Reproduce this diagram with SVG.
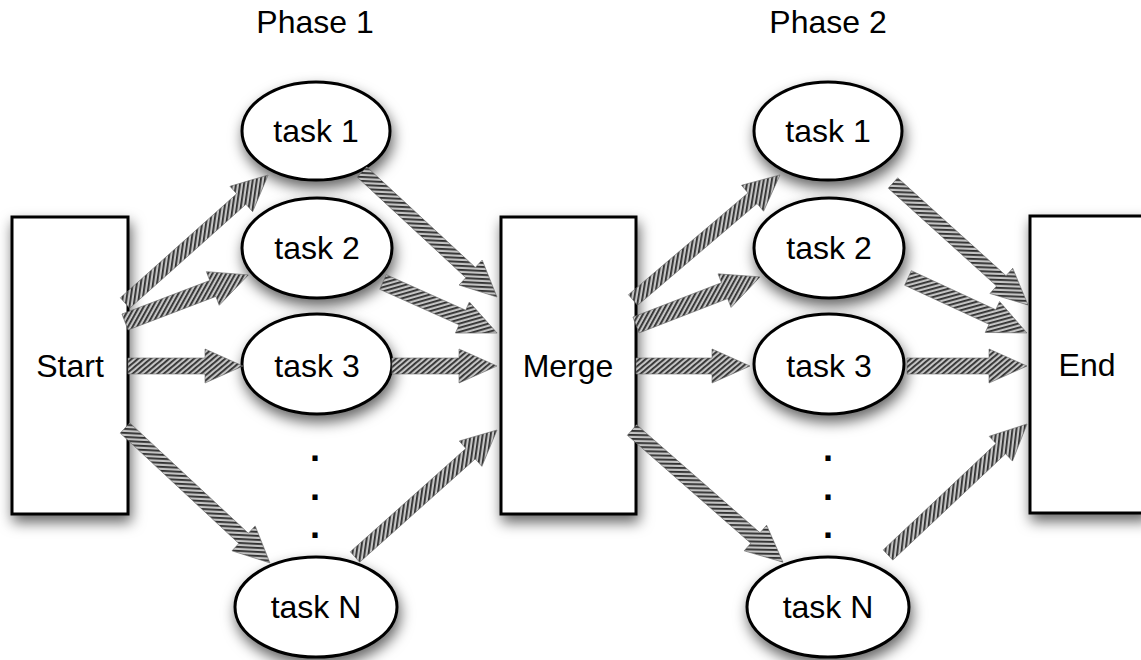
<svg xmlns="http://www.w3.org/2000/svg" width="1141" height="660" viewBox="0 0 1141 660">
<style>
.box{fill:#fff;stroke:#000;stroke-width:3}
.lbl{font-family:"Liberation Sans",Arial,sans-serif;font-size:32px;fill:#000;text-anchor:middle}
.dot{font-family:"Liberation Sans",Arial,sans-serif;font-size:36px;font-weight:bold;fill:#000;text-anchor:middle}
.arr{fill:url(#hatch);stroke:#666;stroke-width:0.6}
</style>
<defs>
<filter id="sh" x="-30%" y="-30%" width="160%" height="160%">
<feDropShadow dx="2" dy="7" stdDeviation="7" flood-color="#000" flood-opacity="0.6"/>
</filter>
<pattern id="hatch" patternUnits="userSpaceOnUse" width="4" height="4" patternTransform="rotate(50)">
<rect width="4" height="4" fill="#c4c4c4"/>
<rect width="1.8" height="4" fill="#2e2e2e"/>
</pattern>
</defs>
<text class="lbl" x="315" y="33">Phase 1</text>
<text class="lbl" x="828" y="33">Phase 2</text>

<g id="start"><rect class="box" filter="url(#sh)" x="12" y="217" width="116" height="297"/><text class="lbl" x="70" y="377">Start</text></g>
<g id="merge"><rect class="box" filter="url(#sh)" x="501" y="217" width="135" height="297"/><text class="lbl" x="568" y="377">Merge</text></g>
<g id="end"><rect class="box" filter="url(#sh)" x="1030" y="216" width="116" height="297"/><text class="lbl" x="1087" y="376">End</text></g>

<g id="p1task1"><ellipse class="box" filter="url(#sh)" cx="316" cy="131" rx="74" ry="49"/><text class="lbl" x="316" y="142">task 1</text></g>
<g id="p1task2"><ellipse class="box" filter="url(#sh)" cx="317" cy="248" rx="75" ry="50"/><text class="lbl" x="317" y="259">task 2</text></g>
<g id="p1task3"><ellipse class="box" filter="url(#sh)" cx="317" cy="364" rx="75" ry="50"/><text class="lbl" x="317" y="377">task 3</text></g>
<g id="p1dots"><text class="dot" x="315" y="461">.</text><text class="dot" x="315" y="500">.</text><text class="dot" x="315" y="538">.</text></g>
<g id="p1taskN"><ellipse class="box" filter="url(#sh)" cx="316" cy="607" rx="81" ry="50"/><text class="lbl" x="316" y="618">task N</text></g>

<g id="p2task1"><ellipse class="box" filter="url(#sh)" cx="828" cy="131" rx="74" ry="49"/><text class="lbl" x="828" y="142">task 1</text></g>
<g id="p2task2"><ellipse class="box" filter="url(#sh)" cx="829" cy="248" rx="75" ry="50"/><text class="lbl" x="829" y="259">task 2</text></g>
<g id="p2task3"><ellipse class="box" filter="url(#sh)" cx="829" cy="364" rx="75" ry="50"/><text class="lbl" x="829" y="377">task 3</text></g>
<g id="p2dots"><text class="dot" x="828" y="461">.</text><text class="dot" x="828" y="500">.</text><text class="dot" x="828" y="538">.</text></g>
<g id="p2taskN"><ellipse class="box" filter="url(#sh)" cx="828" cy="607" rx="81" ry="50"/><text class="lbl" x="828" y="618">task N</text></g>

<g id="connectors">
<path class="arr" transform="translate(125,303) rotate(-41.8)" d="M0,-7 H156 V-17 L192,0 L156,17 V7 H0 Z"/>
<path class="arr" transform="translate(125,322) rotate(-20.9)" d="M0,-8.5 H94 V-18 L132,0 L94,18 V8.5 H0 Z"/>
<path class="arr" transform="translate(128,366) rotate(0)" d="M0,-8 H77 V-17 L115,0 L77,17 V8 H0 Z"/>
<path class="arr" transform="translate(125,428) rotate(42.95)" d="M0,-7 H162 V-17 L198,0 L162,17 V7 H0 Z"/>
<path class="arr" transform="translate(362,172) rotate(42.8)" d="M0,-7 H148 V-17 L184,0 L148,17 V7 H0 Z"/>
<path class="arr" transform="translate(383,282) rotate(24.1)" d="M0,-8 H87 V-17 L125,0 L87,17 V8 H0 Z"/>
<path class="arr" transform="translate(392,366) rotate(0)" d="M0,-8 H67 V-17 L105,0 L67,17 V8 H0 Z"/>
<path class="arr" transform="translate(355,557) rotate(-41.8)" d="M0,-7 H155 V-17 L190.5,0 L155,17 V7 H0 Z"/>

<path class="arr" transform="translate(633,300) rotate(-40.4)" d="M0,-7 H157 V-17 L193,0 L157,17 V7 H0 Z"/>
<path class="arr" transform="translate(636,325) rotate(-21.2)" d="M0,-8.5 H95 V-18 L133,0 L95,18 V8.5 H0 Z"/>
<path class="arr" transform="translate(636,366) rotate(0)" d="M0,-8 H76 V-17 L114,0 L76,17 V8 H0 Z"/>
<path class="arr" transform="translate(632,430) rotate(41.2)" d="M0,-7 H164 V-17 L200.6,0 L164,17 V7 H0 Z"/>
<path class="arr" transform="translate(893,183) rotate(42.1)" d="M0,-7 H146 V-17 L182,0 L146,17 V7 H0 Z"/>
<path class="arr" transform="translate(908,278) rotate(24.8)" d="M0,-8 H93 V-17 L131,0 L93,17 V8 H0 Z"/>
<path class="arr" transform="translate(907,366) rotate(0)" d="M0,-8 H82 V-17 L120,0 L82,17 V8 H0 Z"/>
<path class="arr" transform="translate(888,555) rotate(-43.3)" d="M0,-7 H155 V-17 L191,0 L155,17 V7 H0 Z"/>
</g>
</svg>
